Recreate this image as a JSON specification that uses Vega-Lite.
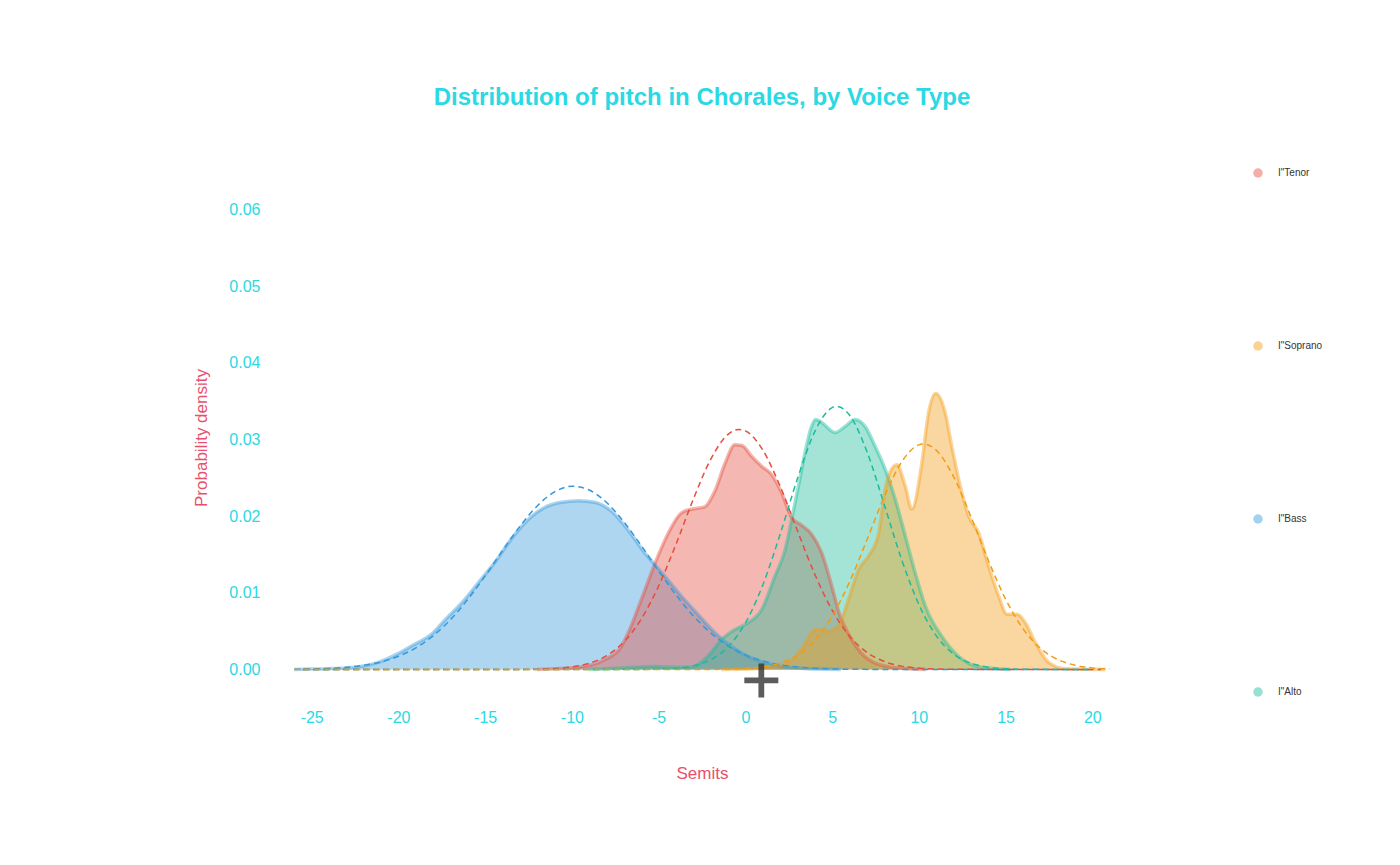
{
  "$schema": "https://vega.github.io/schema/vega-lite/v6.json",
  "autosize": "none",
  "width": 850,
  "height": 533,
  "padding": {"left": 277, "top": 171, "right": 273, "bottom": 161},
  "background": "white",
  "title": {
    "text": "Distribution of pitch in Chorales, by Voice Type",
    "anchor": "middle",
    "offset": 58,
    "font": "Liberation Sans",
    "fontSize": 24,
    "fontWeight": "bold",
    "color": "#2ad9e3"
  },
  "datasets": {
    "kde": [
      {"voice": "I\"Bass", "semit": -26, "density": 0},
      {"voice": "I\"Bass", "semit": -25, "density": 0.00005},
      {"voice": "I\"Bass", "semit": -24, "density": 0.0001},
      {"voice": "I\"Bass", "semit": -23, "density": 0.0002},
      {"voice": "I\"Bass", "semit": -22.2, "density": 0.0004},
      {"voice": "I\"Bass", "semit": -21.2, "density": 0.0009},
      {"voice": "I\"Bass", "semit": -20, "density": 0.0021},
      {"voice": "I\"Bass", "semit": -19.3, "density": 0.003},
      {"voice": "I\"Bass", "semit": -18, "density": 0.0048},
      {"voice": "I\"Bass", "semit": -17.3, "density": 0.0065},
      {"voice": "I\"Bass", "semit": -16.3, "density": 0.0088},
      {"voice": "I\"Bass", "semit": -15.4, "density": 0.0113},
      {"voice": "I\"Bass", "semit": -14.4, "density": 0.0141},
      {"voice": "I\"Bass", "semit": -13.5, "density": 0.017},
      {"voice": "I\"Bass", "semit": -12.5, "density": 0.0196},
      {"voice": "I\"Bass", "semit": -11.6, "density": 0.0211},
      {"voice": "I\"Bass", "semit": -10.6, "density": 0.0218},
      {"voice": "I\"Bass", "semit": -9.6, "density": 0.022},
      {"voice": "I\"Bass", "semit": -8.7, "density": 0.0218},
      {"voice": "I\"Bass", "semit": -7.7, "density": 0.0206},
      {"voice": "I\"Bass", "semit": -6.7, "density": 0.018},
      {"voice": "I\"Bass", "semit": -5.8, "density": 0.0152},
      {"voice": "I\"Bass", "semit": -4.8, "density": 0.0126},
      {"voice": "I\"Bass", "semit": -3.7, "density": 0.0096},
      {"voice": "I\"Bass", "semit": -2.9, "density": 0.0076},
      {"voice": "I\"Bass", "semit": -1.75, "density": 0.0048},
      {"voice": "I\"Bass", "semit": -0.8, "density": 0.003},
      {"voice": "I\"Bass", "semit": 0.17, "density": 0.0017},
      {"voice": "I\"Bass", "semit": 1.1, "density": 0.0009},
      {"voice": "I\"Bass", "semit": 2.1, "density": 0.0004},
      {"voice": "I\"Bass", "semit": 3, "density": 0.0002},
      {"voice": "I\"Bass", "semit": 4, "density": 0.00005},
      {"voice": "I\"Bass", "semit": 5.5, "density": 0},

      {"voice": "I\"Tenor", "semit": -12, "density": 0},
      {"voice": "I\"Tenor", "semit": -11, "density": 0.0001},
      {"voice": "I\"Tenor", "semit": -9.6, "density": 0.0003},
      {"voice": "I\"Tenor", "semit": -8.1, "density": 0.0013},
      {"voice": "I\"Tenor", "semit": -7.15, "density": 0.003},
      {"voice": "I\"Tenor", "semit": -6.75, "density": 0.0048},
      {"voice": "I\"Tenor", "semit": -6.0, "density": 0.0091},
      {"voice": "I\"Tenor", "semit": -5.2, "density": 0.0139},
      {"voice": "I\"Tenor", "semit": -4.44, "density": 0.0178},
      {"voice": "I\"Tenor", "semit": -3.7, "density": 0.0204},
      {"voice": "I\"Tenor", "semit": -3.1, "density": 0.0209},
      {"voice": "I\"Tenor", "semit": -2.35, "density": 0.0212},
      {"voice": "I\"Tenor", "semit": -1.75, "density": 0.0233},
      {"voice": "I\"Tenor", "semit": -1.17, "density": 0.0269},
      {"voice": "I\"Tenor", "semit": -0.6, "density": 0.0293},
      {"voice": "I\"Tenor", "semit": -0.2, "density": 0.0292},
      {"voice": "I\"Tenor", "semit": 0.36, "density": 0.0278},
      {"voice": "I\"Tenor", "semit": 0.94, "density": 0.0265},
      {"voice": "I\"Tenor", "semit": 1.52, "density": 0.0254},
      {"voice": "I\"Tenor", "semit": 2.1, "density": 0.023},
      {"voice": "I\"Tenor", "semit": 2.67, "density": 0.0198},
      {"voice": "I\"Tenor", "semit": 3.25, "density": 0.0188},
      {"voice": "I\"Tenor", "semit": 3.83, "density": 0.0176},
      {"voice": "I\"Tenor", "semit": 4.4, "density": 0.0152},
      {"voice": "I\"Tenor", "semit": 4.98, "density": 0.0109},
      {"voice": "I\"Tenor", "semit": 5.4, "density": 0.0074},
      {"voice": "I\"Tenor", "semit": 6.13, "density": 0.0039},
      {"voice": "I\"Tenor", "semit": 7.1, "density": 0.0013},
      {"voice": "I\"Tenor", "semit": 8.4, "density": 0.0003},
      {"voice": "I\"Tenor", "semit": 10.4, "density": 0},

      {"voice": "I\"Alto", "semit": -9, "density": 0},
      {"voice": "I\"Alto", "semit": -7, "density": 0.0002},
      {"voice": "I\"Alto", "semit": -5.3, "density": 0.0004},
      {"voice": "I\"Alto", "semit": -4, "density": 0.0003},
      {"voice": "I\"Alto", "semit": -3.1, "density": 0.0003},
      {"voice": "I\"Alto", "semit": -2.13, "density": 0.0018},
      {"voice": "I\"Alto", "semit": -1.37, "density": 0.0039},
      {"voice": "I\"Alto", "semit": -0.6, "density": 0.0052},
      {"voice": "I\"Alto", "semit": 0.17, "density": 0.0061},
      {"voice": "I\"Alto", "semit": 0.94, "density": 0.0078},
      {"voice": "I\"Alto", "semit": 1.71, "density": 0.0122},
      {"voice": "I\"Alto", "semit": 2.29, "density": 0.0156},
      {"voice": "I\"Alto", "semit": 2.67, "density": 0.0196},
      {"voice": "I\"Alto", "semit": 3.06, "density": 0.0239},
      {"voice": "I\"Alto", "semit": 3.44, "density": 0.0283},
      {"voice": "I\"Alto", "semit": 3.8, "density": 0.0316},
      {"voice": "I\"Alto", "semit": 4.05, "density": 0.0326},
      {"voice": "I\"Alto", "semit": 4.4, "density": 0.0322},
      {"voice": "I\"Alto", "semit": 5.17, "density": 0.0309},
      {"voice": "I\"Alto", "semit": 5.75, "density": 0.0317},
      {"voice": "I\"Alto", "semit": 6.33, "density": 0.0326},
      {"voice": "I\"Alto", "semit": 6.9, "density": 0.0317},
      {"voice": "I\"Alto", "semit": 7.48, "density": 0.0291},
      {"voice": "I\"Alto", "semit": 8.06, "density": 0.0261},
      {"voice": "I\"Alto", "semit": 8.64, "density": 0.0222},
      {"voice": "I\"Alto", "semit": 9.22, "density": 0.0174},
      {"voice": "I\"Alto", "semit": 9.79, "density": 0.0126},
      {"voice": "I\"Alto", "semit": 10.37, "density": 0.0083},
      {"voice": "I\"Alto", "semit": 11.33, "density": 0.0043},
      {"voice": "I\"Alto", "semit": 12.3, "density": 0.0017},
      {"voice": "I\"Alto", "semit": 13.4, "density": 0.0004},
      {"voice": "I\"Alto", "semit": 15.3, "density": 0},

      {"voice": "I\"Soprano", "semit": -1.4, "density": 0},
      {"voice": "I\"Soprano", "semit": 0.5, "density": 0.0001},
      {"voice": "I\"Soprano", "semit": 1.5, "density": 0.0003},
      {"voice": "I\"Soprano", "semit": 2.67, "density": 0.0012},
      {"voice": "I\"Soprano", "semit": 3.0, "density": 0.002},
      {"voice": "I\"Soprano", "semit": 3.44, "density": 0.0033},
      {"voice": "I\"Soprano", "semit": 3.8, "density": 0.0048},
      {"voice": "I\"Soprano", "semit": 4.1, "density": 0.0052},
      {"voice": "I\"Soprano", "semit": 4.8, "density": 0.005},
      {"voice": "I\"Soprano", "semit": 5.37, "density": 0.0057},
      {"voice": "I\"Soprano", "semit": 5.94, "density": 0.0091},
      {"voice": "I\"Soprano", "semit": 6.52, "density": 0.013},
      {"voice": "I\"Soprano", "semit": 7.1, "density": 0.0148},
      {"voice": "I\"Soprano", "semit": 7.67, "density": 0.0176},
      {"voice": "I\"Soprano", "semit": 8.06, "density": 0.0235},
      {"voice": "I\"Soprano", "semit": 8.35, "density": 0.0258},
      {"voice": "I\"Soprano", "semit": 8.73, "density": 0.0267},
      {"voice": "I\"Soprano", "semit": 9.22, "density": 0.0239},
      {"voice": "I\"Soprano", "semit": 9.6, "density": 0.0209},
      {"voice": "I\"Soprano", "semit": 10.17, "density": 0.0269},
      {"voice": "I\"Soprano", "semit": 10.56, "density": 0.0335},
      {"voice": "I\"Soprano", "semit": 10.97, "density": 0.036},
      {"voice": "I\"Soprano", "semit": 11.52, "density": 0.0335},
      {"voice": "I\"Soprano", "semit": 11.9, "density": 0.0291},
      {"voice": "I\"Soprano", "semit": 12.39, "density": 0.0239},
      {"voice": "I\"Soprano", "semit": 12.87, "density": 0.02},
      {"voice": "I\"Soprano", "semit": 13.45, "density": 0.0178},
      {"voice": "I\"Soprano", "semit": 14.02, "density": 0.0135},
      {"voice": "I\"Soprano", "semit": 14.6, "density": 0.0096},
      {"voice": "I\"Soprano", "semit": 15.08, "density": 0.0072},
      {"voice": "I\"Soprano", "semit": 15.66, "density": 0.0072},
      {"voice": "I\"Soprano", "semit": 16.14, "density": 0.0061},
      {"voice": "I\"Soprano", "semit": 16.72, "density": 0.0035},
      {"voice": "I\"Soprano", "semit": 17.5, "density": 0.0009},
      {"voice": "I\"Soprano", "semit": 18.45, "density": 0.0001},
      {"voice": "I\"Soprano", "semit": 20.75, "density": 0}
    ],
    "normal": [
      {"voice": "I\"Bass", "semit": -26, "density": 0.00003},
      {"voice": "I\"Bass", "semit": -25, "density": 0.00007},
      {"voice": "I\"Bass", "semit": -24, "density": 0.00014},
      {"voice": "I\"Bass", "semit": -23, "density": 0.00028},
      {"voice": "I\"Bass", "semit": -22, "density": 0.00055},
      {"voice": "I\"Bass", "semit": -21, "density": 0.00099},
      {"voice": "I\"Bass", "semit": -20, "density": 0.00172},
      {"voice": "I\"Bass", "semit": -19, "density": 0.00282},
      {"voice": "I\"Bass", "semit": -18, "density": 0.00439},
      {"voice": "I\"Bass", "semit": -17, "density": 0.0065},
      {"voice": "I\"Bass", "semit": -16, "density": 0.00914},
      {"voice": "I\"Bass", "semit": -15, "density": 0.01221},
      {"voice": "I\"Bass", "semit": -14, "density": 0.01549},
      {"voice": "I\"Bass", "semit": -13, "density": 0.01865},
      {"voice": "I\"Bass", "semit": -12, "density": 0.02133},
      {"voice": "I\"Bass", "semit": -11, "density": 0.02316},
      {"voice": "I\"Bass", "semit": -10, "density": 0.02389},
      {"voice": "I\"Bass", "semit": -9, "density": 0.0234},
      {"voice": "I\"Bass", "semit": -8, "density": 0.02177},
      {"voice": "I\"Bass", "semit": -7, "density": 0.01923},
      {"voice": "I\"Bass", "semit": -6, "density": 0.01614},
      {"voice": "I\"Bass", "semit": -5, "density": 0.01285},
      {"voice": "I\"Bass", "semit": -4, "density": 0.00973},
      {"voice": "I\"Bass", "semit": -3, "density": 0.00699},
      {"voice": "I\"Bass", "semit": -2, "density": 0.00477},
      {"voice": "I\"Bass", "semit": -1, "density": 0.00309},
      {"voice": "I\"Bass", "semit": 0, "density": 0.0019},
      {"voice": "I\"Bass", "semit": 1, "density": 0.00111},
      {"voice": "I\"Bass", "semit": 2, "density": 0.00062},
      {"voice": "I\"Bass", "semit": 3, "density": 0.00033},
      {"voice": "I\"Bass", "semit": 4, "density": 0.00016},
      {"voice": "I\"Bass", "semit": 5, "density": 0.00008},
      {"voice": "I\"Bass", "semit": 6, "density": 0.00003},
      {"voice": "I\"Bass", "semit": 8, "density": 0.00001},
      {"voice": "I\"Bass", "semit": 20, "density": 0},

      {"voice": "I\"Tenor", "semit": -25.5, "density": 0},
      {"voice": "I\"Tenor", "semit": -13, "density": 0.00001},
      {"voice": "I\"Tenor", "semit": -12, "density": 0.00004},
      {"voice": "I\"Tenor", "semit": -11, "density": 0.00012},
      {"voice": "I\"Tenor", "semit": -10, "density": 0.00033},
      {"voice": "I\"Tenor", "semit": -9, "density": 0.00081},
      {"voice": "I\"Tenor", "semit": -8, "density": 0.0018},
      {"voice": "I\"Tenor", "semit": -7, "density": 0.00361},
      {"voice": "I\"Tenor", "semit": -6, "density": 0.00659},
      {"voice": "I\"Tenor", "semit": -5, "density": 0.01089},
      {"voice": "I\"Tenor", "semit": -4, "density": 0.01632},
      {"voice": "I\"Tenor", "semit": -3, "density": 0.02221},
      {"voice": "I\"Tenor", "semit": -2, "density": 0.0274},
      {"voice": "I\"Tenor", "semit": -1, "density": 0.03066},
      {"voice": "I\"Tenor", "semit": -0.4, "density": 0.0313},
      {"voice": "I\"Tenor", "semit": 0, "density": 0.03111},
      {"voice": "I\"Tenor", "semit": 1, "density": 0.02863},
      {"voice": "I\"Tenor", "semit": 2, "density": 0.0239},
      {"voice": "I\"Tenor", "semit": 3, "density": 0.01809},
      {"voice": "I\"Tenor", "semit": 4, "density": 0.01243},
      {"voice": "I\"Tenor", "semit": 5, "density": 0.00774},
      {"voice": "I\"Tenor", "semit": 6, "density": 0.00437},
      {"voice": "I\"Tenor", "semit": 7, "density": 0.00224},
      {"voice": "I\"Tenor", "semit": 8, "density": 0.00104},
      {"voice": "I\"Tenor", "semit": 9, "density": 0.00044},
      {"voice": "I\"Tenor", "semit": 10, "density": 0.00017},
      {"voice": "I\"Tenor", "semit": 11, "density": 0.00006},
      {"voice": "I\"Tenor", "semit": 12, "density": 0.00002},
      {"voice": "I\"Tenor", "semit": 20.5, "density": 0},

      {"voice": "I\"Alto", "semit": -25.5, "density": 0},
      {"voice": "I\"Alto", "semit": -6, "density": 0.00001},
      {"voice": "I\"Alto", "semit": -5, "density": 0.00005},
      {"voice": "I\"Alto", "semit": -4, "density": 0.00016},
      {"voice": "I\"Alto", "semit": -3, "density": 0.00048},
      {"voice": "I\"Alto", "semit": -2, "density": 0.00127},
      {"voice": "I\"Alto", "semit": -1, "density": 0.00295},
      {"voice": "I\"Alto", "semit": 0, "density": 0.00606},
      {"voice": "I\"Alto", "semit": 1, "density": 0.01099},
      {"voice": "I\"Alto", "semit": 2, "density": 0.0176},
      {"voice": "I\"Alto", "semit": 3, "density": 0.02486},
      {"voice": "I\"Alto", "semit": 4, "density": 0.03101},
      {"voice": "I\"Alto", "semit": 5, "density": 0.03415},
      {"voice": "I\"Alto", "semit": 5.27, "density": 0.0343},
      {"voice": "I\"Alto", "semit": 6, "density": 0.03318},
      {"voice": "I\"Alto", "semit": 7, "density": 0.02846},
      {"voice": "I\"Alto", "semit": 8, "density": 0.02154},
      {"voice": "I\"Alto", "semit": 9, "density": 0.01439},
      {"voice": "I\"Alto", "semit": 10, "density": 0.00849},
      {"voice": "I\"Alto", "semit": 11, "density": 0.00441},
      {"voice": "I\"Alto", "semit": 12, "density": 0.00203},
      {"voice": "I\"Alto", "semit": 13, "density": 0.00082},
      {"voice": "I\"Alto", "semit": 14, "density": 0.00029},
      {"voice": "I\"Alto", "semit": 15, "density": 0.00009},
      {"voice": "I\"Alto", "semit": 16, "density": 0.00003},
      {"voice": "I\"Alto", "semit": 20, "density": 0},

      {"voice": "I\"Soprano", "semit": -26, "density": 0},
      {"voice": "I\"Soprano", "semit": -2, "density": 0.00001},
      {"voice": "I\"Soprano", "semit": -1, "density": 0.00004},
      {"voice": "I\"Soprano", "semit": 0, "density": 0.00012},
      {"voice": "I\"Soprano", "semit": 1, "density": 0.00034},
      {"voice": "I\"Soprano", "semit": 2, "density": 0.00084},
      {"voice": "I\"Soprano", "semit": 3, "density": 0.00188},
      {"voice": "I\"Soprano", "semit": 4, "density": 0.0038},
      {"voice": "I\"Soprano", "semit": 5, "density": 0.00693},
      {"voice": "I\"Soprano", "semit": 6, "density": 0.01139},
      {"voice": "I\"Soprano", "semit": 7, "density": 0.01686},
      {"voice": "I\"Soprano", "semit": 8, "density": 0.02249},
      {"voice": "I\"Soprano", "semit": 9, "density": 0.02703},
      {"voice": "I\"Soprano", "semit": 10, "density": 0.02929},
      {"voice": "I\"Soprano", "semit": 10.27, "density": 0.0294},
      {"voice": "I\"Soprano", "semit": 11, "density": 0.0286},
      {"voice": "I\"Soprano", "semit": 12, "density": 0.02516},
      {"voice": "I\"Soprano", "semit": 13, "density": 0.01994},
      {"voice": "I\"Soprano", "semit": 14, "density": 0.01426},
      {"voice": "I\"Soprano", "semit": 15, "density": 0.00918},
      {"voice": "I\"Soprano", "semit": 16, "density": 0.00533},
      {"voice": "I\"Soprano", "semit": 17, "density": 0.00278},
      {"voice": "I\"Soprano", "semit": 18, "density": 0.00131},
      {"voice": "I\"Soprano", "semit": 19, "density": 0.00056},
      {"voice": "I\"Soprano", "semit": 20, "density": 0.00021},
      {"voice": "I\"Soprano", "semit": 21, "density": 0.00007}
    ],
    "cursor": [
      {"semit": 0.92, "density": -0.00143}
    ]
  },
  "layer": [
    {
      "data": {"name": "kde"},
      "mark": {"type": "area", "interpolate": "monotone", "fillOpacity": 0.4},
      "encoding": {
        "y": {"field": "density", "type": "quantitative", "stack": null}
      }
    },
    {
      "data": {"name": "kde"},
      "mark": {"type": "line", "interpolate": "monotone", "strokeWidth": 3.5, "opacity": 0.42},
      "encoding": {}
    },
    {
      "data": {"name": "normal"},
      "mark": {"type": "line", "interpolate": "monotone", "strokeWidth": 1.5, "strokeDash": [6, 4]},
      "encoding": {}
    },
    {
      "data": {"name": "cursor"},
      "mark": {
        "type": "point",
        "shape": "M-1,-0.17H1V0.17H-1Z M-0.17,-1H0.17V1H-0.17Z",
        "filled": true,
        "size": 1156,
        "opacity": 0.8
      },
      "encoding": {
        "color": {"value": "#333333"}
      }
    }
  ],
  "encoding": {
    "x": {
      "field": "semit",
      "type": "quantitative",
      "title": "Semits",
      "scale": {"domain": [-27, 22], "nice": false, "zero": false},
      "axis": {
        "values": [-25, -20, -15, -10, -5, 0, 5, 10, 15, 20],
        "labelExpr": "datum.value < 0 ? '-' + abs(datum.value) : '' + datum.value",
        "labelPadding": 5,
        "titlePadding": 40
      }
    },
    "y": {
      "field": "density",
      "type": "quantitative",
      "title": "Probability density",
      "scale": {"domain": [-0.0045, 0.065], "nice": false, "zero": false},
      "axis": {"values": [0, 0.01, 0.02, 0.03, 0.04, 0.05, 0.06], "format": ".2f", "labelPadding": 17, "titlePadding": 18}
    },
    "color": {
      "field": "voice",
      "type": "nominal",
      "scale": {
        "domain": ["I\"Tenor", "I\"Soprano", "I\"Bass", "I\"Alto"],
        "range": ["#e74c3c", "#f39c12", "#3498db", "#1abc9c"]
      },
      "legend": {
        "title": null,
        "orient": "none",
        "legendX": 976,
        "legendY": -3,
        "symbolType": "circle",
        "symbolSize": 90,
        "symbolStrokeWidth": 0,
        "labelFont": "Liberation Sans",
        "labelFontSize": 10,
        "labelColor": "#333333",
        "labelOffset": 15,
        "rowPadding": 163,
        "encode": {
          "symbols": {
            "update": {
              "fill": {"scale": "color", "field": "value"},
              "fillOpacity": {"value": 0.45},
              "opacity": {"value": 1},
              "strokeWidth": {"value": 0}
            }
          }
        }
      }
    }
  },
  "config": {
    "view": {"stroke": null},
    "axis": {
      "grid": false,
      "domain": false,
      "ticks": false,
      "labelFont": "Liberation Sans",
      "labelFontSize": 16,
      "labelColor": "#2ad9e3",
      "titleFont": "Liberation Sans",
      "titleFontSize": 17,
      "titleFontWeight": "normal",
      "titleColor": "#e8506c"
    }
  }
}
